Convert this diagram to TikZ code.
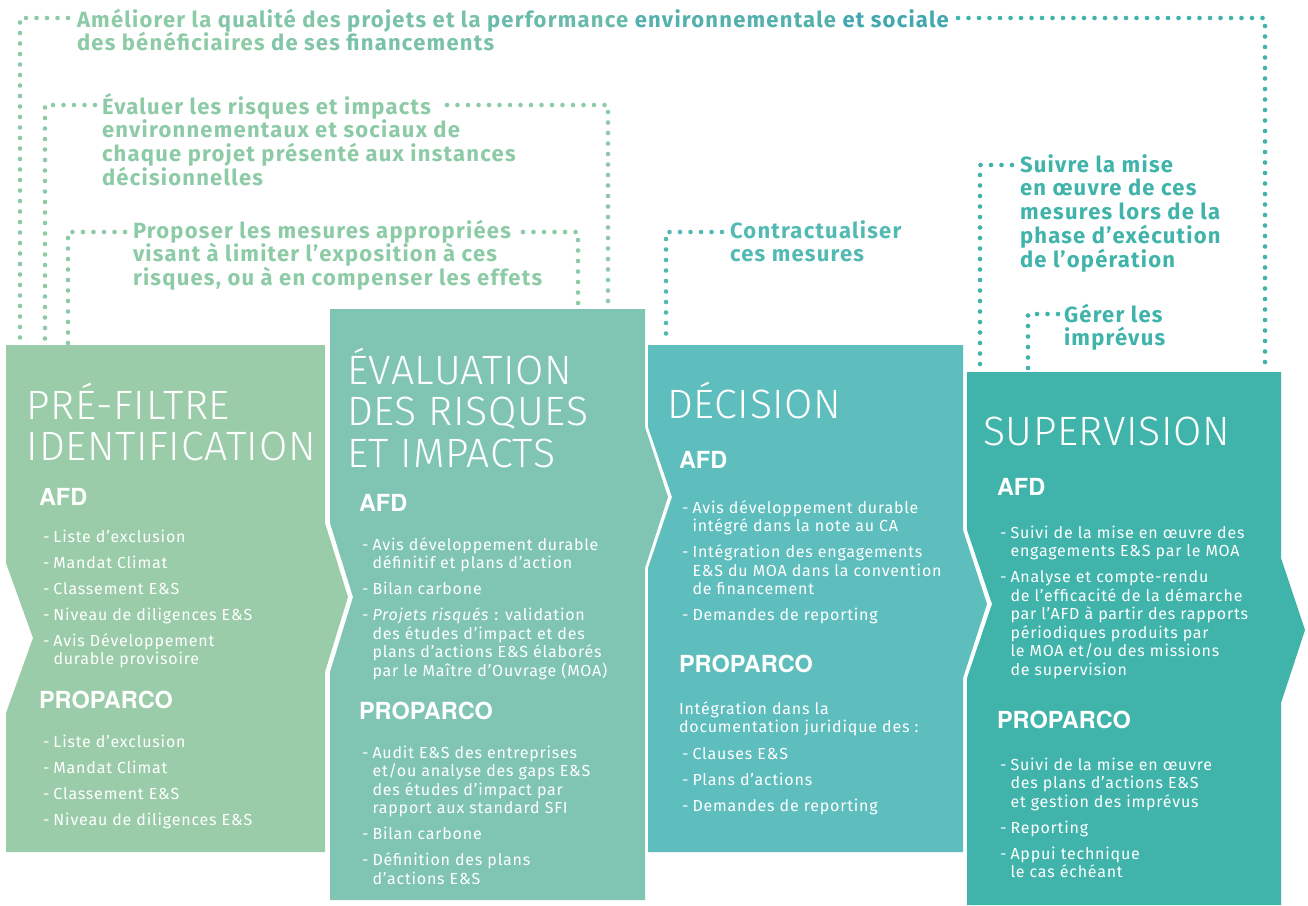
\documentclass[tikz,border=0pt]{standalone}
\usepackage{fontspec}
\setmainfont{Fira Sans}
\newfontfamily\thinfont{Fira Sans Light}[LetterSpace=1.5]
\newfontfamily\bodyfont{Fira Sans}[LetterSpace=5]
\newfontfamily\annfont{Fira Sans}[LetterSpace=5.6]
\newfontfamily\orgfont{TeX Gyre Heros}
\definecolor{c1}{HTML}{9ACCA9}
\definecolor{c2}{HTML}{80C5B3}
\definecolor{c3}{HTML}{5EBDBD}
\definecolor{c4}{HTML}{40B4AA}
\definecolor{tg}{HTML}{8DCBA6}
\definecolor{tb}{HTML}{3BA5B0}
\definecolor{tc}{HTML}{52BAB3}
\definecolor{td}{HTML}{40B3AA}
\newcommand\gw[2]{\textcolor{tb!#1!tg}{#2}}
\newlength\dashw \setlength\dashw{10.5pt}
\newlength\itmsep \setlength\itmsep{7.5pt}
\newcommand\lstart{\hsize=400pt\parindent=0pt\parskip=0pt\rightskip=0pt plus 1fil\lineskiplimit=-1000pt\lineskip=0pt\baselineskip=18.5pt\relax}
\newcommand\itA[1]{\hangindent=\dashw\hangafter=1\noindent\hbox to\dashw{-\hfil}#1\par}
\newcommand\itB[1]{\vskip\itmsep\itA{#1}}
\newcommand\lst[1]{\vtop{\lstart #1}}
\newcommand\stk[1]{\vtop{\lineskiplimit=-1000pt\lineskip=0pt #1}}
\begin{document}
\begin{tikzpicture}[x=1pt,y=-1pt,
  dotline/.style={line width=4.6pt, dash pattern=on 0pt off 10.5pt, line cap=round},
  txt/.style={anchor=base west, inner sep=0pt, outer sep=0pt, text=white},
  ann/.style={anchor=base west, inner sep=0pt, outer sep=0pt, font=\annfont\bfseries\fontsize{22}{23.8}\selectfont},
  head/.style={txt, font=\thinfont\fontsize{41}{41.5}\selectfont},
  org/.style={txt, font=\orgfont\bfseries\fontsize{23.5}{24}\selectfont},
  lstn/.style={txt, font=\bodyfont\fontsize{16}{18.5}\selectfont}]
\fill[white] (0,0) rectangle (1308,905);
\useasboundingbox (0,0) rectangle (1308,905);

% boxes
\fill[c1] (6,345) -- (325,345) -- (325,523) -- (348,597) -- (325,672) -- (325,852) -- (6,852) -- (6,713) -- (33,638) -- (6,563) -- cycle;
\fill[c2] (330,309) -- (645,309) -- (645,427) -- (668,497) -- (645,568) -- (645,900) -- (330,900) -- (330,672) -- (353,597) -- (330,523) -- cycle;
\fill[c3] (648,345) -- (963,345) -- (963,530) -- (987,604) -- (963,678) -- (963,852) -- (648,852) -- (648,568) -- (672,497) -- (648,427) -- cycle;
\fill[c4] (967,372) -- (1281,372) -- (1281,558) -- (1305,630) -- (1281,703) -- (1281,905) -- (967,905) -- (967,678) -- (992,604) -- (967,530) -- cycle;

% annotations
\node[ann] (a0) at (77,27) {\stk{\hbox{\gw{0}{Améliorer la} \gw{12}{qualité des} \gw{25}{projets et la} \gw{45}{performance} \gw{72}{environnementale} \gw{92}{et sociale}}\hbox{\gw{0}{des bénéficiaires} \gw{12}{de ses} \gw{25}{financements}}}};
\node[ann, text=tg] (a1) at (102,114) {\stk{\hbox{Évaluer les risques et impacts}\hbox{environnementaux et sociaux de}\hbox{chaque projet présenté aux instances}\hbox{décisionnelles}}};
\node[ann, text=tg] (a2) at (133,238) {\stk{\hbox{Proposer les mesures appropriées}\hbox{visant à limiter l’exposition à ces}\hbox{risques, ou à en compenser les effets}}};
\node[ann, text=tc] (a3) at (730,238) {\stk{\hbox{Contractualiser}\hbox{ces mesures}}};
\node[ann, text=td] (a4) at (1020,172) {\stk{\hbox{Suivre la mise}\hbox{en œuvre de ces}\hbox{mesures lors de la}\hbox{phase d’exécution}\hbox{de l’opération}}};
\node[ann, text=td] (a5) at (1064,322) {\stk{\hbox{Gérer les}\hbox{imprévus}}};

% dotted connectors
\coordinate (a0l) at (68,18);  \coordinate (b1a) at (20,343);
\coordinate (a0r) at (958,18); \coordinate (b4a) at (1265,370);
\coordinate (a1l) at (95,105); \coordinate (b1b) at (45,343);
\coordinate (a1r) at (447,105); \coordinate (b2a) at (608,307);
\coordinate (a2l) at (125,232); \coordinate (b1c) at (68,343);
\coordinate (a2r) at (523,232); \coordinate (b2b) at (578,307);
\coordinate (a3l) at (722,232); \coordinate (b3a) at (666,343);
\coordinate (a4l) at (1012,165); \coordinate (b4b) at (980,370);
\coordinate (a5l) at (1058,314); \coordinate (b4c) at (1028,370);
\draw[dotline, tg] (a0l) -| (b1a);
\draw[dotline, c4] (a0r) -| (b4a);
\draw[dotline, tg] (a1l) -| (b1b);
\draw[dotline, tg] (a1r) -| (b2a);
\draw[dotline, tg] (a2l) -| (b1c);
\draw[dotline, tg] (a2r) -| (b2b);
\draw[dotline, tc] (a3l) -| (b3a);
\draw[dotline, td] (a4l) -| (b4b);
\draw[dotline, td] (a5l) -| (b4c);

% box 1
\node[head] (h1) at (27,419) {\stk{\hbox{PRÉ-FILTRE}\hbox{IDENTIFICATION}}};
\node[org] (o1a) at (39,505) {AFD};
\node[lstn] (l1a) at (43,542) {\lst{\itA{Liste d’exclusion}\itB{Mandat Climat}\itB{Classement E\&S}\itB{Niveau de diligences E\&S}\itB{Avis Développement\newline durable provisoire}}};
\node[org] (o1b) at (39,708) {PROPARCO};
\node[lstn] (l1b) at (43,747) {\lst{\itA{Liste d’exclusion}\itB{Mandat Climat}\itB{Classement E\&S}\itB{Niveau de diligences E\&S}}};

% box 2
\node[head] (h2) at (347,384) {\stk{\hbox{ÉVALUATION}\hbox{DES RISQUES}\hbox{ET IMPACTS}}};
\node[org] (o2a) at (359,511) {AFD};
\node[lstn] (l2a) at (362,550) {\lst{\itA{Avis développement durable\newline définitif et plans d’action}\itB{Bilan carbone}\itB{\textit{Projets risqués} : validation\newline des études d’impact et des\newline plans d’actions E\&S élaborés\newline par le Maître d’Ouvrage (MOA)}}};
\node[org] (o2b) at (359,719) {PROPARCO};
\node[lstn] (l2b) at (362,758) {\lst{\itA{Audit E\&S des entreprises\newline et/ou analyse des gaps E\&S\newline des études d’impact par\newline rapport aux standard SFI}\itB{Bilan carbone}\itB{Définition des plans\newline d’actions E\&S}}};

% box 3
\node[head] (h3) at (667,418) {DÉCISION};
\node[org] (o3a) at (679,468) {AFD};
\node[lstn] (l3a) at (682,513) {\lst{\itA{Avis développement durable\newline intégré dans la note au CA}\itB{Intégration des engagements\newline E\&S du MOA dans la convention\newline de financement}\itB{Demandes de reporting}}};
\node[org] (o3b) at (679,672) {PROPARCO};
\node[lstn] (p3) at (679,714) {\lst{Intégration dans la\newline documentation juridique des :}};
\node[lstn] (l3b) at (682,759) {\lst{\itA{Clauses E\&S}\itB{Plans d’actions}\itB{Demandes de reporting}}};

% box 4
\node[head] (h4) at (983,445) {SUPERVISION};
\node[org] (o4a) at (997,495) {AFD};
\node[lstn] (l4a) at (1000,538) {\lst{\itA{Suivi de la mise en œuvre des\newline engagements E\&S par le MOA}\itB{Analyse et compte-rendu\newline de l’efficacité de la démarche\newline par l’AFD à partir des rapports\newline périodiques produits par\newline le MOA et/ou des missions\newline de supervision}}};
\node[org] (o4b) at (997,728) {PROPARCO};
\node[lstn] (l4b) at (1000,770) {\lst{\itA{Suivi de la mise en œuvre\newline des plans d’actions E\&S\newline et gestion des imprévus}\itB{Reporting}\itB{Appui technique\newline le cas échéant}}};
\end{tikzpicture}
\end{document}
